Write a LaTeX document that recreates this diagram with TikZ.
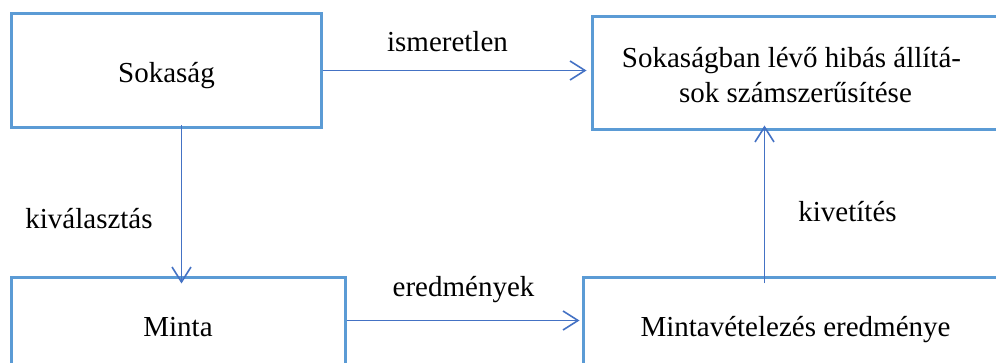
\documentclass[tikz,border=0pt]{standalone}
\usepackage{fontspec}
\setmainfont{Liberation Serif}
\usetikzlibrary{arrows.meta,calc}
\definecolor{boxblue}{HTML}{5B9BD5}
\definecolor{arrowblue}{HTML}{4472C4}
\tikzset{
  box/.style={draw=boxblue, line width=3pt, rectangle, inner sep=0pt},
  txt/.style={anchor=base, inner sep=0pt, font=\rmfamily\fontsize{29}{35}\selectfont},
  arr/.style={draw=arrowblue, line width=1.6pt,
    -{Straight Barb[length=15pt,width=19pt,line width=1.6pt]}}
}
\begin{document}
\begin{tikzpicture}[x=1pt,y=-1pt]
  \useasboundingbox (0,0) rectangle (996,363);
  \clip (0,0) rectangle (996,363);

  % boxes
  \node[box, minimum width=310pt, minimum height=114pt] (A) at (166,71) {};
  \node[box, minimum width=418pt, minimum height=113pt] (B) at (801,73.5) {};
  \node[box, minimum width=334pt, minimum height=97pt] (C) at (178,326.5) {};
  \node[box, minimum width=427pt, minimum height=97pt] (D) at (796.5,326.5) {};

  % box texts
  \node[txt] (tA) at (166.5,83) {Sokaság};
  \node[txt] (tB1) at (791.5,68) {Sokaságban lévő hibás állítá-};
  \node[txt] (tB2) at (795.5,103) {sok számszerűsítése};
  \node[txt] (tC) at (178,337) {Minta};
  \node[txt] (tD) at (795.5,337) {Mintavételezés eredménye};

  % connectors
  \draw[arr] ($(A.north east)+(0,58)$) -- ($(B.north west)+(-4,55)$);
  \draw[arr] ($(A.south west)+(172,-4)$) -- ($(C.north west)+(172,7)$);
  \draw[arr] ($(C.north east)+(0,44)$) -- ($(D.north west)+(-2,44)$);
  \draw[arr] ($(D.north west)+(183,7)$) -- ($(B.south west)+(174,-6)$);

  % connector labels
  \node[txt] (lAB) at (447.5,52) {ismeretlen};
  \node[txt] (lAC) at (89,229) {kiválasztás};
  \node[txt] (lCD) at (463.5,297) {eredmények};
  \node[txt] (lDB) at (847.5,222) {kivetítés};
\end{tikzpicture}
\end{document}
